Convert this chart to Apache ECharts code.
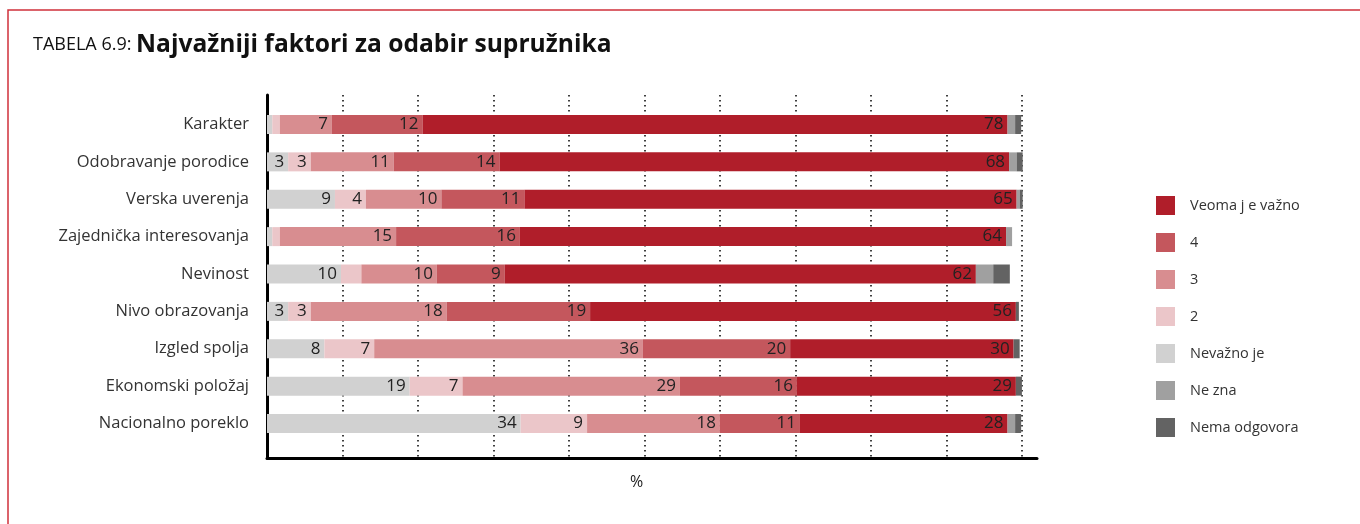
<!DOCTYPE html>
<html>
<head>
<meta charset="utf-8">
<script src="https://cdn.jsdelivr.net/npm/echarts@6/dist/echarts.min.js"></script>
<style>html,body{margin:0;padding:0;background:#fff}#c{width:1360px;height:524px}</style>
</head>
<body>
<div id="c"></div>
<script>
const categories = ['Karakter','Odobravanje porodice','Verska uverenja','Zajednička interesovanja','Nevinost','Nivo obrazovanja','Izgled spolja','Ekonomski položaj','Nacionalno poreklo'];
const nevazno = [0.7, 2.8, 9, 0.7, 9.8, 2.8, 7.6, 18.9, 33.6];
const dva     = [1, 3, 4.1, 1, 2.7, 3, 6.6, 7, 8.8];
const tri     = [6.9, 11, 10, 15.4, 10, 18, 35.6, 28.8, 17.6];
const cetiri  = [12, 14, 11, 16.4, 9, 19, 19.5, 15.5, 10.6];
const veoma   = [77.5, 67.5, 65.2, 64.4, 62.4, 56.4, 29.6, 29, 27.5];
const neZna   = [1, 1, 0.4, 0.8, 2.3, 0, 0, 0, 1];
const nema    = [0.8, 0.8, 0.4, 0, 2.2, 0.4, 0.8, 0.8, 0.8];
const seriesNames = ['Nevažno je','2','3','4','Veoma j e važno','Ne zna','Nema odgovora'];
const legendOrder = ['Veoma j e važno','4','3','2','Nevažno je','Ne zna','Nema odgovora'];
const colors = ['#D1D1D1','#EBC6C9','#D88D90','#C4575D','#B01E2A','#A0A0A0','#636363'];
const values = [nevazno, dva, tri, cetiri, veoma, neZna, nema];

const FONT = '"Open Sans", "Noto Sans", sans-serif';
const chart = echarts.init(document.getElementById('c'));
chart.setOption({
  animation: false,
  backgroundColor: '#fff',
  textStyle: { fontFamily: FONT },
  title: {
    left: 28, top: 27,
    text: '{a|TABELA 6.9: }{b|Najvažniji faktori za odabir supružnika}',
    textStyle: {
      rich: {
        a: { fontFamily: FONT, fontSize: 18, color: '#111', fontWeight: 'normal' },
        b: { fontFamily: FONT, fontSize: 24.6, color: '#111', fontWeight: 'bold' }
      }
    }
  },
  graphic: [
    { type: 'rect', shape: { x: 8, y: 10, width: 1400, height: 600 }, style: { fill: 'none', stroke: '#D0313B', lineWidth: 1.5 }, silent: true },
    { type: 'text', left: 630, top: 474, style: { text: '%', fontFamily: FONT, fontSize: 16, fill: '#222' } }
  ],
  legend: {
    orient: 'vertical', left: 1151, top: 191,
    itemWidth: 19, itemHeight: 19, itemGap: 18,
    icon: 'rect',
    data: legendOrder,
    textStyle: { fontFamily: FONT, fontSize: 14.5, color: '#333', padding: [0, 0, 0, 10] }
  },
  grid: [
    { left: 267, right: 323, top: 95, bottom: 66 },
    { left: 267, right: 323, top: 105.8, bottom: 81.8 }
  ],
  xAxis: [
    {
      gridIndex: 0, type: 'value', min: 0, max: 102, interval: 10,
      axisLine: { show: true, lineStyle: { color: '#000', width: 3 } },
      axisTick: { show: false }, axisLabel: { show: false },
      splitLine: { show: true, showMinLine: false, showMaxLine: false, lineStyle: { color: '#000', width: 1.5, type: [1.5, 3.5] } }
    },
    {
      gridIndex: 1, type: 'value', min: 0, max: 102, interval: 10, show: false,
      splitLine: { show: false }
    }
  ],
  yAxis: [
    {
      gridIndex: 0, type: 'value', min: 0, max: 1,
      axisLine: { show: true, onZero: false, lineStyle: { color: '#000', width: 3 } },
      axisTick: { show: false }, axisLabel: { show: false }, splitLine: { show: false }
    },
    {
      gridIndex: 1, type: 'category', inverse: true, data: categories,
      axisLine: { show: false }, axisTick: { show: false },
      axisLabel: { margin: 18, fontFamily: FONT, fontSize: 16.5, color: '#333' }
    }
  ],
  series: seriesNames.map((n, i) => ({
    name: n, type: 'bar', stack: 'total',
    xAxisIndex: 1, yAxisIndex: 1,
    barWidth: 19,
    itemStyle: { color: colors[i] },
    label: {
      show: true, position: 'insideRight', distance: 4,
      fontFamily: FONT, fontSize: 17, color: '#222',
      formatter: p => (p.value >= 2.75 ? String(Math.round(p.value)) : '')
    },
    data: values[i]
  }))
});
</script>
</body>
</html>
